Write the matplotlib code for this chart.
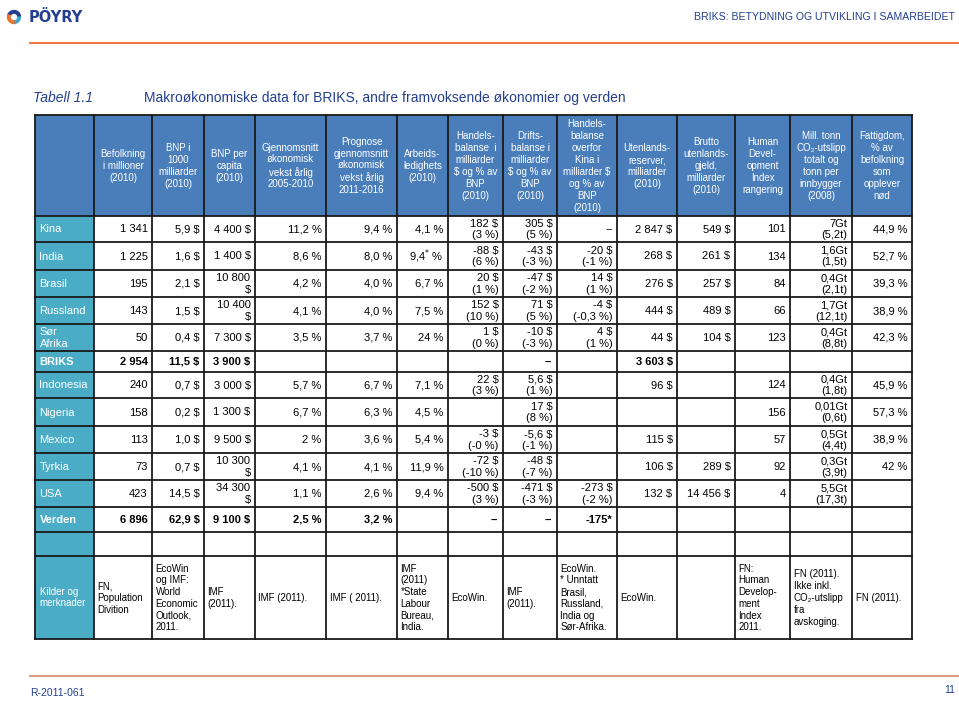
import matplotlib
matplotlib.use("Agg")
import matplotlib.pyplot as plt
from matplotlib.patches import Rectangle, Wedge

plt.rcParams['font.family'] = ['Liberation Sans', 'DejaVu Sans']

# ---------------- data ----------------
countries = ["Kina", "India", "Brasil", "Russland", "Sør\nAfrika", "BRIKS",
             "Indonesia", "Nigeria", "Mexico", "Tyrkia", "USA", "Verden"]
bold_rows = ["BRIKS", "Verden"]

befolkning = ["1 341", "1 225", "195", "143", "50", "2 954", "240", "158", "113", "73", "423", "6 896"]
bnp = ["5,9 $", "1,6 $", "2,1 $", "1,5 $", "0,4 $", "11,5 $", "0,7 $", "0,2 $", "1,0 $", "0,7 $", "14,5 $", "62,9 $"]
bnp_per_capita = ["4 400 $", "1 400 $", "10 800\n$", "10 400\n$", "7 300 $", "3 900 $", "3 000 $",
                  "1 300 $", "9 500 $", "10 300\n$", "34 300\n$", "9 100 $"]
vekst_2005_2010 = ["11,2 %", "8,6 %", "4,2 %", "4,1 %", "3,5 %", "", "5,7 %", "6,7 %", "2 %", "4,1 %", "1,1 %", "2,5 %"]
prognose_2011_2016 = ["9,4 %", "8,0 %", "4,0 %", "4,0 %", "3,7 %", "", "6,7 %", "6,3 %", "3,6 %", "4,1 %", "2,6 %", "3,2 %"]
arbeidsledighet = ["4,1 %", "9,4$^{*}$ %", "6,7 %", "7,5 %", "24 %", "", "7,1 %", "4,5 %", "5,4 %", "11,9 %", "9,4 %", ""]
handelsbalanse = ["182 $\n(3 %)", "-88 $\n(6 %)", "20 $\n(1 %)", "152 $\n(10 %)", "1 $\n(0 %)", "",
                  "22 $\n(3 %)", "", "-3 $\n(-0 %)", "-72 $\n(-10 %)", "-500 $\n(3 %)", "--"]
driftsbalanse = ["305 $\n(5 %)", "-43 $\n(-3 %)", "-47 $\n(-2 %)", "71 $\n(5 %)", "-10 $\n(-3 %)", "--",
                 "5,6 $\n(1 %)", "17 $\n(8 %)", "-5,6 $\n(-1 %)", "-48 $\n(-7 %)", "-471 $\n(-3 %)", "--"]
handel_kina = ["--", "-20 $\n(-1 %)", "14 $\n(1 %)", "-4 $\n(-0,3 %)", "4 $\n(1 %)", "",
               "", "", "", "", "-273 $\n(-2 %)", "-175*"]
reserver = ["2 847 $", "268 $", "276 $", "444 $", "44 $", "3 603 $", "96 $", "", "115 $", "106 $", "132 $", ""]
gjeld = ["549 $", "261 $", "257 $", "489 $", "104 $", "", "", "", "", "289 $", "14 456 $", ""]
hdi = ["101", "134", "84", "66", "123", "", "124", "156", "57", "92", "4", ""]
co2 = ["7Gt\n(5,2t)", "1,6Gt\n(1,5t)", "0,4Gt\n(2,1t)", "1,7Gt\n(12,1t)", "0,4Gt\n(8,8t)", "",
       "0,4Gt\n(1,8t)", "0,01Gt\n(0,6t)", "0,5Gt\n(4,4t)", "0,3Gt\n(3,9t)", "5,5Gt\n(17,3t)", ""]
fattigdom = ["44,9 %", "52,7 %", "39,3 %", "38,9 %", "42,3 %", "", "45,9 %", "57,3 %", "38,9 %", "42 %", "", ""]

headers = ["", "Befolkning\ni millioner\n(2010)", "BNP i\n1000\nmilliarder\n(2010)", "BNP per\ncapita\n(2010)",
           "Gjennomsnitt\nøkonomisk\nvekst årlig\n2005-2010",
           "Prognose\ngjennomsnitt\nøkonomisk\nvekst årlig\n2011-2016",
           "Arbeids-\nledighets\n(2010)",
           "Handels-\nbalanse  i\nmilliarder\n$ og % av\nBNP\n(2010)",
           "Drifts-\nbalanse i\nmilliarder\n$ og % av\nBNP\n(2010)",
           "Handels-\nbalanse\noverfor\nKina i\nmilliarder $\nog % av\nBNP\n(2010)",
           "Utenlands-\nreserver,\nmilliarder\n(2010)",
           "Brutto\nutenlands-\ngjeld,\nmilliarder\n(2010)",
           "Human\nDevel-\nopment\nIndex\nrangering",
           "Mill. tonn\nCO₂-utslipp\ntotalt og\ntonn per\ninnbygger\n(2008)",
           "Fattigdom,\n% av\nbefolkning\nsom\nopplever\nnød"]

sources_label = "Kilder og\nmerknader"
sources = ["FN,\nPopulation\nDivition", "EcoWin\nog IMF:\nWorld\nEconomic\nOutlook,\n2011.", "IMF\n(2011).",
           "IMF (2011).", "IMF ( 2011).", "IMF\n(2011)\n*State\nLabour\nBureau,\nIndia.", "EcoWin.",
           "IMF\n(2011).", "EcoWin.\n* Unntatt\nBrasil,\nRussland,\nIndia og\nSør-Afrika.", "EcoWin.", "",
           "FN:\nHuman\nDevelop-\nment\nIndex\n2011.", "FN (2011).\nIkke inkl.\nCO₂-utslipp\nfra\navskoging.",
           "FN (2011)."]

columns = [befolkning, bnp, bnp_per_capita, vekst_2005_2010, prognose_2011_2016, arbeidsledighet,
           handelsbalanse, driftsbalanse, handel_kina, reserver, gjeld, hdi, co2, fattigdom]

# ---------------- layout (pixels) ----------------
col_edges = [35, 94, 152, 204, 255, 326, 397, 448, 503, 557, 617, 677, 735, 790, 852, 912]
header_top, header_bot = 115, 216
row_edges = [216, 242, 270, 297, 324, 351, 372, 398, 426, 453, 480, 507, 532]
blank_bot = 556
src_bot = 639

HEADER_BLUE = "#4A7EBB"
TEAL = "#4BACC6"
NAVY = "#243F8F"
LINE = "#1a1a1a"

fig = plt.figure(figsize=(9.59, 7.01), dpi=100)
ax = fig.add_axes([0, 0, 1, 1])
ax.set_xlim(0, 959)
ax.set_ylim(701, 0)
ax.axis("off")

# page header
ax.add_patch(Wedge((14, 17), 6.5, 200, 360, width=2.6, color=NAVY))
ax.add_patch(Wedge((14, 17), 6.5, 0, 90, width=2.6, color="#3FA7C9"))
ax.add_patch(Wedge((14, 17), 6.5, 90, 200, width=2.6, color="#E8742F"))
ax.text(29, 17.5, "PÖYRY", fontsize=10.5, fontweight="heavy", color=NAVY, va="center", ha="left",
        family=["DejaVu Sans"])
ax.text(955, 17, "BRIKS: BETYDNING OG UTVIKLING I SAMARBEIDET", fontsize=7.6, color=NAVY,
        ha="right", va="center")
ax.plot([29, 959], [43, 43], color="#F07A45", lw=1.5, solid_capstyle="butt")

# title
ax.text(33, 98, "Tabell 1.1", fontsize=10, style="italic", color=NAVY, ha="left", va="center")
ax.text(144, 98, "Makroøkonomiske data for BRIKS, andre framvoksende økonomier og verden",
        fontsize=10, color=NAVY, ha="left", va="center")

# fills
ax.add_patch(Rectangle((col_edges[0], header_top), col_edges[-1] - col_edges[0], header_bot - header_top,
                       facecolor=HEADER_BLUE, edgecolor="none"))
ax.add_patch(Rectangle((col_edges[0], header_bot), col_edges[1] - col_edges[0], src_bot - header_bot,
                       facecolor=TEAL, edgecolor="none"))

# header text
for i, h in enumerate(headers):
    if not h:
        continue
    cx = (col_edges[i] + col_edges[i + 1]) / 2
    ax.text(cx, (header_top + header_bot) / 2 + 0.5, h, fontsize=7, color="white", ha="center",
            va="center", multialignment="center", linespacing=1.24, parse_math=False)

# body
for r, name in enumerate(countries):
    y0, y1 = row_edges[r], row_edges[r + 1]
    cy = (y0 + y1) / 2 + 0.5
    fw = "bold" if name in bold_rows else "normal"
    ax.text(col_edges[0] + 4.5, cy, name, fontsize=8, color="white", ha="left", va="center",
            fontweight=fw, linespacing=1.25, parse_math=False)
    for c, col in enumerate(columns):
        val = col[r]
        if not val:
            continue
        xr = col_edges[c + 2] - 4.5
        ax.text(xr, cy, val, fontsize=8, color="black", ha="right", va="center",
                multialignment="right", fontweight=fw, linespacing=1.2,
                parse_math=("$^" in val))

# sources row
ax.text(col_edges[0] + 4.5, (blank_bot + src_bot) / 2, sources_label, fontsize=7, color="white",
        ha="left", va="center", linespacing=1.2)
for c, s in enumerate(sources):
    if not s:
        continue
    ax.text(col_edges[c + 1] + 3.5, (blank_bot + src_bot) / 2 + 0.5, s, fontsize=7, color="black",
            ha="left", va="center", multialignment="left", linespacing=1.22, parse_math=False)

# grid lines
all_rows = [header_top] + row_edges + [blank_bot, src_bot]
for y in all_rows:
    ax.plot([col_edges[0], col_edges[-1]], [y, y], color=LINE, lw=1.3, solid_capstyle="projecting")
for x in col_edges:
    ax.plot([x, x], [header_top, src_bot], color=LINE, lw=1.3, solid_capstyle="projecting")

# footer
ax.plot([29, 959], [676, 676], color="#DC9A80", lw=1.5, solid_capstyle="butt")
ax.text(30, 693, "R-2011-061", fontsize=7.5, color=NAVY, ha="left", va="center")
ax.text(955, 690, "11", fontsize=7.5, color=NAVY, ha="right", va="center")

fig.savefig("out.png", dpi=100)
